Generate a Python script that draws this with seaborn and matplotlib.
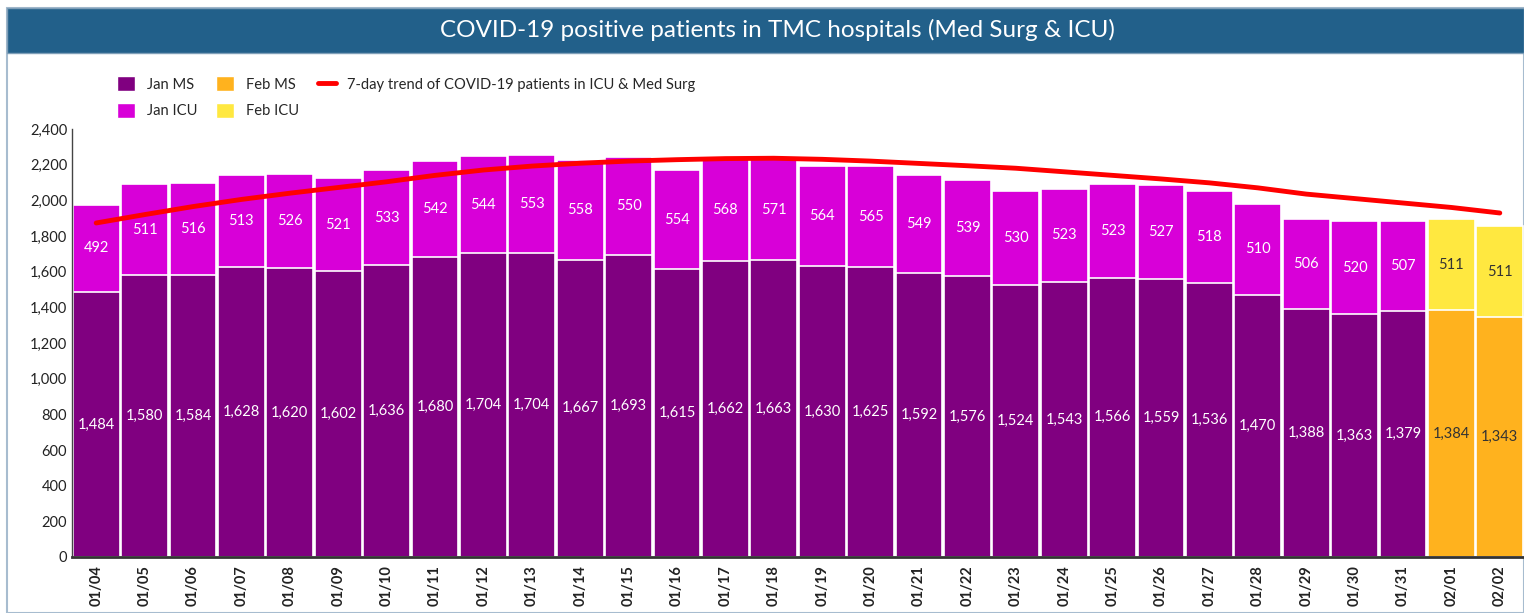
import numpy as np
import pandas as pd
import matplotlib
matplotlib.use("Agg")
import matplotlib.pyplot as plt
from matplotlib.patches import Patch, Rectangle
from matplotlib.lines import Line2D
from matplotlib.ticker import FuncFormatter
import seaborn as sns

dates = ["01/04","01/05","01/06","01/07","01/08","01/09","01/10","01/11","01/12","01/13",
         "01/14","01/15","01/16","01/17","01/18","01/19","01/20","01/21","01/22","01/23",
         "01/24","01/25","01/26","01/27","01/28","01/29","01/30","01/31","02/01","02/02"]
ms = [1484,1580,1584,1628,1620,1602,1636,1680,1704,1704,1667,1693,1615,1662,1663,1630,
      1625,1592,1576,1524,1543,1566,1559,1536,1470,1388,1363,1379,1384,1343]
icu = [492,511,516,513,526,521,533,542,544,553,558,550,554,568,571,564,565,549,539,530,
       523,523,527,518,510,506,520,507,511,511]
trend = [1873,1920,1965,2005,2040,2072,2104,2140,2170,2192,2208,2220,2228,2234,2236,2230,
         2220,2207,2194,2180,2160,2140,2120,2098,2070,2035,2010,1985,1960,1929]
month = ["Jan" if d.startswith("01") else "Feb" for d in dates]

C_JAN_MS = "#800080"
C_JAN_ICU = "#D800D8"
C_FEB_MS = "#FFB21E"
C_FEB_ICU = "#FFE840"
C_TREND = "#FF0000"

df = pd.DataFrame({"date": dates, "ms": ms, "icu": icu, "month": month})
df["total"] = df["ms"] + df["icu"]

sns.set_theme(style="white")
plt.rcParams["font.family"] = ["Lato", "DejaVu Sans"]

fig = plt.figure(figsize=(15.24, 6.13), dpi=100)
fig.patch.set_facecolor("white")

# outer frame and banner
fig.patches.append(Rectangle((7/1524, 0), 1 - 7/1524, 1 - 8/613, transform=fig.transFigure,
                             facecolor="white", edgecolor="#A7BCCF", linewidth=1.5, zorder=-5))
fig.patches.append(Rectangle((7/1524, 1 - 53/613), 1 - 7/1524, 45/613, transform=fig.transFigure,
                             facecolor="#22608A", edgecolor="#7F9FB8", linewidth=1, zorder=-4))
fig.text(0.5 + 15/1524, 1 - 30/613, "COVID-19 positive patients in TMC hospitals (Med Surg & ICU)",
         ha="center", va="center", color="white", fontsize=17.5, zorder=2)

ax = fig.add_axes([72/1524, 1 - 557/613, 1 - 72/1524, (557 - 129)/613])
ax.set_zorder(3)
ax.set_facecolor("none")

icu_colors = [C_JAN_ICU if m == "Jan" else C_FEB_ICU for m in month]
ms_colors = [C_JAN_MS if m == "Jan" else C_FEB_MS for m in month]

sns.barplot(data=df, x="date", y="total", hue="date", palette=icu_colors, legend=False,
            width=0.97, edgecolor="white", linewidth=1.2, ax=ax, saturation=1)
sns.barplot(data=df, x="date", y="ms", hue="date", palette=ms_colors, legend=False,
            width=0.97, edgecolor="white", linewidth=1.2, ax=ax, saturation=1)

sns.lineplot(x=np.arange(len(dates)), y=trend, color=C_TREND, linewidth=3.5, ax=ax,
             solid_capstyle="round")

for i, (m, a, b) in enumerate(zip(month, ms, icu)):
    col = "white" if m == "Jan" else "#333333"
    ax.text(i, a / 2, f"{a:,}", ha="center", va="center", color=col, fontsize=10.5)
    ax.text(i, a + b / 2, f"{b:,}", ha="center", va="center", color=col, fontsize=10.5)

ax.set_xlim(-0.5, len(dates) - 0.5)
ax.set_ylim(0, 2400)
ax.set_yticks(np.arange(0, 2401, 200))
ax.yaxis.set_major_formatter(FuncFormatter(lambda v, p: f"{int(v):,}"))
ax.set_xlabel("")
ax.set_ylabel("")
ax.tick_params(axis="both", length=0, labelsize=10.5, colors="#222222")
ax.tick_params(axis="x", rotation=90, pad=6)
for lab in ax.get_xticklabels():
    lab.set_fontweight("bold")
for s in ["top", "right"]:
    ax.spines[s].set_visible(False)
ax.spines["left"].set_color("#444444")
ax.spines["left"].set_linewidth(1)
ax.spines["bottom"].set_color("#333333")
ax.spines["bottom"].set_linewidth(2)
ax.grid(False)

handles = [Patch(facecolor=C_JAN_MS, label="Jan MS"),
           Patch(facecolor=C_JAN_ICU, label="Jan ICU"),
           Patch(facecolor=C_FEB_MS, label="Feb MS"),
           Patch(facecolor=C_FEB_ICU, label="Feb ICU"),
           Line2D([0], [0], color=C_TREND, linewidth=3.5,
                  label="7-day trend of COVID-19 patients in ICU & Med Surg")]
fig.legend(handles=handles, ncol=3, loc="upper left", bbox_to_anchor=(104/1524, 1 - 63/613),
           frameon=False, fontsize=10.6, handlelength=1.2, handleheight=1.2,
           columnspacing=1.3, handletextpad=0.8, labelspacing=0.75)

fig.savefig("out.png", dpi=100, facecolor="white")
